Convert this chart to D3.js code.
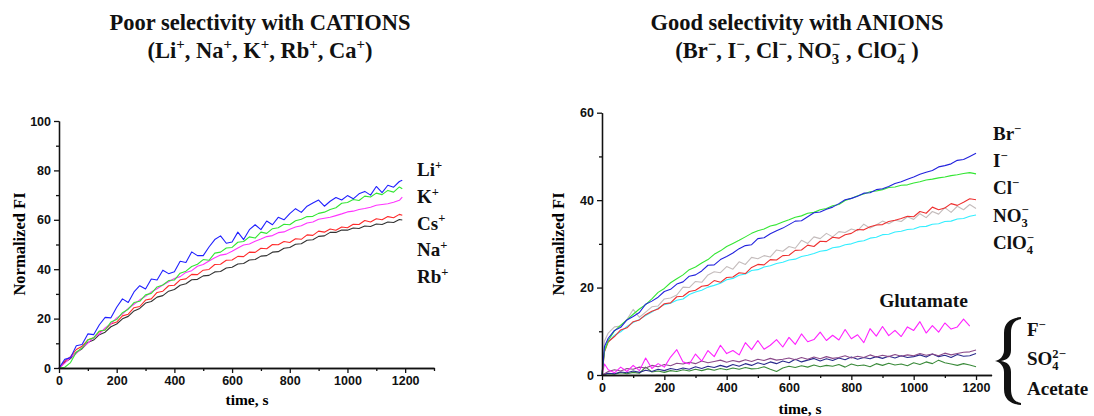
<!DOCTYPE html>
<html>
<head>
<meta charset="utf-8">
<script src="https://cdn.jsdelivr.net/npm/d3@7"></script>
<style>
  body { margin: 0; background: #fff; }
  svg { display: block; }
</style>
</head>
<body>
<div id="chart"></div>
<script>
// ---- data ----
// left panel: cations, time in s
const leftTime = [0,20,40,60,80,100,120,140,160,180,200,220,240,260,280,300,320,340,360,380,
  400,420,440,460,480,500,520,540,560,580,600,620,640,660,680,700,720,740,760,780,
  800,820,840,860,880,900,920,940,960,980,1000,1020,1040,1060,1080,1100,1120,1140,1160,1180,1190];

const li = [0,3.5,4.2,9,9.5,13.8,13.5,17.5,20.5,20.3,
  24.6,28,26.5,30.8,33.3,32,36,35.6,39.6,38.2,
  39,43.2,42.7,47,45.5,45.5,49,52,53.5,50.5,
  51,55,52,56,58,56,59.5,58,61,60,
  62.5,64.5,63,65.5,66.8,68,65.5,67.5,69,68,
  69.8,68.5,70.5,71.5,70,73.5,71,74,73.2,75.5,
  76];
const k = [0,0.3,2.2,6.4,8.1,11.3,12.2,15.0,15.4,18.6,
  19.6,22.4,23.8,26.5,27.0,29.6,30.2,32.8,33.6,35.4,
  35.6,38.4,39.2,41.1,42.0,43.9,43.6,46.5,46.9,48.6,
  48.8,50.9,51.2,53.1,52.6,55.0,54.5,56.4,56.8,58.2,
  58.0,59.6,60.2,61.3,61.4,62.6,63.1,64.2,64.9,66.7,
  67.0,68.2,67.8,69.6,69.2,70.8,70.2,71.9,71.2,73.3,
  72.6];
const cs = [0,2.0,4.3,5.9,8.2,10.1,12.3,13.8,16.2,17.9,
  20.3,21.8,24.1,25.8,27.6,29.0,30.8,32.1,33.6,34.9,
  36.2,37.0,38.7,39.4,41.2,41.9,43.3,44.6,45.7,46.1,
  47.3,48.6,49.8,50.2,51.3,52.2,53.2,53.6,54.8,55.1,
  56.2,57.1,57.6,58.7,59.1,60.2,60.6,61.0,61.7,62.4,
  63.2,63.5,64.2,64.6,65.1,65.9,66.2,66.5,67.1,67.9,
  69.2];
const na = [0,2.8,4.6,7.5,8.8,11.4,12.2,14.7,15.5,17.8,
  18.6,21.1,21.8,24.4,24.9,27.5,28.0,30.6,31.1,33.3,
  33.5,35.7,36.1,37.9,37.8,39.6,39.9,41.9,42.0,43.6,
  43.7,45.2,45.1,46.9,46.8,48.5,48.3,50.0,49.9,51.2,
  50.8,52.3,52.1,53.9,53.7,55.4,55.0,56.3,55.8,57.1,
  56.8,58.2,58.1,59.7,59.1,60.4,60.0,61.3,60.8,62.2,
  61.8];
const rb = [0,2.3,3.8,6.3,7.8,10.3,11.3,13.5,14.5,16.7,
  17.8,19.9,20.9,23.1,24.1,26.3,26.9,28.7,29.3,31.1,
  31.8,33.5,34.1,35.7,35.9,37.3,37.5,38.9,39.1,40.5,
  40.8,42.1,42.3,43.7,43.9,45.3,45.5,46.9,47.1,48.5,
  48.8,50.1,50.3,51.7,51.9,53.3,53.5,54.9,54.9,55.9,
  55.8,56.7,56.5,57.5,57.3,58.3,58.1,59.1,58.9,60.1,
  59.9];

// right panel: anions
const rightTime = [0,8,20,40,60,80,100,120,140,160,180,200,220,240,260,280,300,320,340,360,380,
  400,420,440,460,480,500,520,540,560,580,600,620,640,660,680,700,720,740,760,780,
  800,820,840,860,880,900,920,940,960,980,1000,1020,1040,1060,1080,1100,1120,1140,1160,1180,1200];

const br = [0,6.5,8.4,10.2,10.9,12.6,13.4,14.3,16.2,16.9,
  17.8,19.1,19.6,20.8,21.3,22.6,22.9,23.8,25.1,25.2,
  26.4,27.1,27.9,28.9,29.6,29.8,31.2,31.4,32.3,33.0,
  33.6,34.4,35.2,35.3,36.2,37.1,37.3,37.9,38.4,39.2,
  40.1,40.4,40.9,41.6,41.7,42.4,42.6,43.1,43.8,44.2,
  44.8,45.3,45.9,46.4,46.8,47.6,47.9,48.3,49.1,49.3,
  50.0,50.7];
const iod = [0,5.5,7.9,10.1,11.4,12.6,13.9,15.1,16.1,17.4,
  18.9,19.8,21.1,22.0,22.9,24.1,24.7,25.6,26.4,27.6,
  28.4,29.4,30.1,30.8,31.6,32.4,33.0,33.4,34.1,34.4,
  35.0,35.5,36.1,36.4,37.0,37.2,37.8,38.1,38.7,39.0,
  39.9,40.4,41.0,41.4,41.9,42.1,42.4,42.9,43.0,43.4,
  43.5,43.9,44.2,44.6,44.8,45.1,45.3,45.6,45.8,46.1,
  46.3,46.0];
const cl = [0,5.3,7.6,8.8,10.3,10.8,12.2,12.6,13.8,14.6,
  15.1,16.3,16.5,17.9,18.0,19.1,19.4,20.3,20.5,21.6,
  21.2,22.3,22.4,23.4,23.2,24.6,25.3,25.2,26.4,26.3,
  27.3,27.4,28.5,28.6,29.7,29.4,30.6,30.5,31.5,31.3,
  32.1,32.4,33.3,33.2,33.9,34.3,34.4,35.1,35.4,35.8,
  36.3,36.2,37.4,37.0,38.4,37.8,38.2,39.2,38.8,39.5,
  40.3,40.1];
const no3 = [0,7.8,9.6,11.0,11.2,12.7,15.0,13.2,14.4,15.6,
  15.8,17.4,17.6,18.3,20.1,20.0,21.4,21.2,22.9,23.6,
  23.4,24.8,24.2,25.9,25.3,26.9,26.6,27.3,27.0,28.6,
  28.3,29.4,29.0,30.8,30.1,31.6,31.2,32.4,31.6,32.8,
  32.6,33.4,33.0,34.5,33.6,34.3,35.2,34.6,35.4,35.1,
  36.2,35.6,36.9,36.0,37.4,36.8,38.3,37.2,38.6,37.8,
  39.0,38.1];
const clo4 = [0,6.1,7.5,9.1,9.9,11.1,12.0,12.7,13.6,14.4,
  15.3,16.1,16.4,17.1,17.4,18.4,19.0,19.4,20.1,20.5,
  21.0,21.8,22.1,22.8,23.1,23.9,24.1,24.7,25.0,25.5,
  25.8,26.3,26.5,27.1,27.4,27.8,28.3,28.5,29.1,29.3,
  29.8,30.0,30.5,30.7,31.3,31.5,32.1,32.2,32.7,32.9,
  33.3,33.4,33.9,34.0,34.5,34.6,35.1,35.2,35.7,35.8,
  36.3,36.6];
const glutamate = [0,2.5,1.2,0.5,1.8,0.8,2.2,1.0,3.9,1.5,
  2.6,1.8,4.1,5.8,3.0,2.5,4.8,3.2,5.6,4.2,
  6.8,4.9,5.6,4.6,7.4,5.8,7.9,5.9,6.8,8.1,
  6.4,8.6,7.0,9.4,7.6,8.1,9.8,7.9,9.1,8.0,
  10.4,8.3,9.2,7.4,10.6,8.9,11.1,9.0,10.2,8.8,
  11.0,10.2,12.2,9.6,11.3,9.8,11.9,10.5,11.0,12.8,
  11.2];
const fluoride = [0,0.3,0.8,1.2,0.9,1.5,1.3,1.8,1.6,2.2,
  1.9,2.4,2.1,2.7,2.5,2.9,2.6,3.2,2.8,3.1,
  3.4,2.9,3.3,3.0,3.5,3.1,3.6,3.3,3.8,3.4,
  3.6,3.9,3.5,4.0,3.6,4.1,3.7,4.2,3.8,4.0,
  4.4,3.9,4.3,4.0,4.6,4.1,4.5,4.2,4.7,4.3,
  4.6,4.4,4.9,4.5,4.8,4.4,5.0,4.6,4.9,5.2,
  5.3,5.7];
const sulfate = [0,0.2,0.4,0.3,0.7,0.5,0.9,0.6,1.1,0.8,
  1.3,1.0,1.5,1.2,1.6,1.3,1.9,1.5,2.0,1.7,
  2.2,1.8,2.4,2.0,2.6,2.2,2.8,2.4,3.0,2.6,
  3.2,2.8,3.6,3.0,3.4,3.8,3.2,3.7,3.3,3.9,
  3.5,4.1,3.6,4.0,3.7,4.2,3.8,4.3,3.9,4.4,
  4.0,4.2,4.6,4.1,4.8,4.2,4.5,4.0,4.7,4.3,
  4.4,4.9];
const acetate = [0,0.1,0.3,0.2,0.5,0.3,0.6,0.4,1.8,0.7,
  0.9,0.6,1.0,0.8,1.2,0.9,1.3,1.0,1.4,1.1,
  1.5,1.2,1.6,1.3,1.7,1.4,1.5,1.9,1.3,0.8,
  1.6,2.0,1.7,2.1,1.8,2.3,1.9,2.2,2.0,2.4,
  1.8,2.5,2.1,2.3,1.9,2.6,2.2,2.7,2.3,2.5,
  2.1,2.8,2.4,3.0,2.6,3.4,2.8,2.5,2.2,2.6,
  2.3,1.9];

// tick values
const leftXMajor = [0, 200, 400, 600, 800, 1000, 1200];
const leftXMinor = [100, 300, 500, 700, 900, 1100, 1300];
const leftYMajor = [0, 20, 40, 60, 80, 100];
const leftYMinor = [10, 30, 50, 70, 90];
const rightXMajor = [0, 200, 400, 600, 800, 1000, 1200];
const rightXMinor = [100, 300, 500, 700, 900, 1100];
const rightYMajor = [0, 20, 40, 60];
const rightYMinor = [10, 30, 50];

// labels
const cationNames = ["Li", "K", "Cs", "Na", "Rb"];
const anionNames = ["Br", "I", "Cl", "NO", "ClO"];
const anionSubs = ["", "", "", "3", "4"];
const weakNames = ["F", "SO", "Acetate"];

// ---- drawing ----
const width = 1094, height = 416;
const serif = "'Liberation Serif', 'Times New Roman', Times, serif";
const sans = "'Liberation Sans', Arial, Helvetica, sans-serif";

const svg = d3.select("#chart").append("svg")
  .attr("width", width)
  .attr("height", height);

// text with small raised / lowered parts
function richText(parent, x, y, parts, size, anchor) {
  const t = parent.append("text")
    .attr("x", x).attr("y", y)
    .attr("text-anchor", anchor || "start")
    .attr("font-family", serif)
    .attr("font-weight", "bold")
    .attr("font-size", size)
    .attr("fill", "#111");
  const small = size * 0.66;
  const supY = -size * 0.38, subY = size * 0.27;
  let off = 0;
  parts.forEach(p => {
    if (typeof p === "string") {
      t.append("tspan").attr("dy", -off).text(p);
      off = 0;
    } else if (p.sub && p.sup) {
      const s = t.append("tspan").attr("dy", subY - off).attr("font-size", small).text(p.sub);
      const w = s.node().getComputedTextLength();
      t.append("tspan").attr("dx", -w).attr("dy", supY - subY).attr("font-size", small).text(p.sup);
      off = supY;
    } else if (p.sup) {
      t.append("tspan").attr("dy", supY - off).attr("font-size", small).text(p.sup);
      off = supY;
    }
  });
  return t;
}

function drawAxes(g, x, y, xMajor, xMinor, yMajor, yMinor) {
  const y0 = y.range()[0], x0 = x.range()[0];
  g.append("g").attr("transform", `translate(0,${y0})`)
    .call(d3.axisBottom(x).tickValues(xMinor).tickSize(3).tickSizeOuter(0).tickFormat(""));
  g.append("g").attr("transform", `translate(0,${y0})`)
    .call(d3.axisBottom(x).tickValues(xMajor).tickSize(5).tickSizeOuter(0).tickPadding(3)
      .tickFormat(d3.format("d")));
  g.append("g").attr("transform", `translate(${x0},0)`)
    .call(d3.axisLeft(y).tickValues(yMinor).tickSize(3).tickSizeOuter(0).tickFormat(""));
  g.append("g").attr("transform", `translate(${x0},0)`)
    .call(d3.axisLeft(y).tickValues(yMajor).tickSize(5).tickSizeOuter(0).tickPadding(3)
      .tickFormat(d3.format("d")));
  g.selectAll(".domain, .tick line").attr("stroke", "#111").attr("stroke-width", 1.3);
  g.selectAll(".tick text")
    .attr("font-family", sans).attr("font-weight", 700)
    .attr("font-size", 12.5).attr("fill", "#111");
}

function axisTitles(g, cx, by, lx, ly) {
  g.append("text")
    .attr("x", cx).attr("y", by)
    .attr("text-anchor", "middle")
    .attr("font-family", serif).attr("font-weight", "bold").attr("font-size", 15.5)
    .text("time, s");
  g.append("text")
    .attr("transform", `translate(${lx},${ly}) rotate(-90)`)
    .attr("text-anchor", "middle")
    .attr("font-family", serif).attr("font-weight", "bold").attr("font-size", 16.5)
    .text("Normalized FI");
}

function drawLines(g, x, y, times, series) {
  series.forEach(s => {
    g.append("path")
      .datum(s.values)
      .attr("fill", "none")
      .attr("stroke", s.color)
      .attr("stroke-width", 1.1)
      .attr("stroke-linejoin", "round")
      .attr("d", d3.line()
        .x((d, i) => x(times[i]))
        .y(d => y(d)));
  });
}

// ---- left panel ----
const left = svg.append("g");
const xL = d3.scaleLinear().domain([0, 1300]).range([59, 434]);
const yL = d3.scaleLinear().domain([0, 100]).range([368, 121]);

drawLines(left, xL, yL, leftTime, [
  {values: rb, color: "#333333"},
  {values: na, color: "#ff2a2a"},
  {values: cs, color: "#ff33ff"},
  {values: k, color: "#33e633"},
  {values: li, color: "#2020ff"}
]);
drawAxes(left, xL, yL, leftXMajor, leftXMinor, leftYMajor, leftYMinor);
axisTitles(left, 247, 405, 25, 244);

richText(left, 260, 30, ["Poor selectivity with CATIONS"], 22.5, "middle");
richText(left, 260, 58, ["(Li", {sup: "+"}, ", Na", {sup: "+"}, ", K", {sup: "+"},
  ", Rb", {sup: "+"}, ", Ca", {sup: "+"}, ")"], 22.5, "middle");

cationNames.forEach((n, i) => {
  richText(left, 417, 176 + i * 26.8, [n, {sup: "+"}], 19);
});

// ---- right panel ----
const right = svg.append("g");
const xR = d3.scaleLinear().domain([0, 1250]).range([602, 991.6]);
const yR = d3.scaleLinear().domain([0, 60]).range([375, 112.7]);

drawLines(right, xR, yR, rightTime, [
  {values: acetate, color: "#3a8a3a"},
  {values: sulfate, color: "#2a2a8c"},
  {values: fluoride, color: "#8a4a8a"},
  {values: glutamate, color: "#ff22ff"},
  {values: clo4, color: "#33eeff"},
  {values: no3, color: "#c4bcbc"},
  {values: cl, color: "#ee3030"},
  {values: iod, color: "#33e633"},
  {values: br, color: "#2222dd"}
]);
drawAxes(right, xR, yR, rightXMajor, rightXMinor, rightYMajor, rightYMinor);
axisTitles(right, 800, 414, 564, 244);

richText(right, 797, 30, ["Good selectivity with ANIONS"], 22.5, "middle");
richText(right, 797, 58, ["(Br", {sup: "\u2212"}, ", I", {sup: "\u2212"}, ", Cl", {sup: "\u2212"},
  ", NO", {sub: "3", sup: "\u2212"}, " , ClO", {sub: "4", sup: "\u2212"}, " )"], 22.5, "middle");

anionNames.forEach((n, i) => {
  const parts = anionSubs[i] ? [n, {sub: anionSubs[i], sup: "\u2212"}] : [n, {sup: "\u2212"}];
  richText(right, 993, 140 + i * 27.2, parts, 19);
});

richText(right, 968, 307, ["Glutamate"], 19.5, "end");

// brace for the three weak anions
right.append("path")
  .attr("d", "M1021,317 C1011,318 1004,322 1004,333 L1004,350 C1004,356 1000,360 995,361" +
    " C1000,362 1004,366 1004,372 L1004,389 C1004,400 1011,404 1021,405 L1021,403" +
    " C1015,402 1011,398 1011,389 L1011,372 C1011,365 1007,362 1001,361" +
    " C1007,360 1011,357 1011,350 L1011,333 C1011,324 1015,320 1021,319 Z")
  .attr("fill", "#111");

richText(right, 1027, 336, [weakNames[0], {sup: "\u2212"}], 19);
richText(right, 1027, 365, [weakNames[1], {sub: "4", sup: "2\u2212"}], 19);
richText(right, 1027, 395, [weakNames[2]], 19);
</script>
</body>
</html>
